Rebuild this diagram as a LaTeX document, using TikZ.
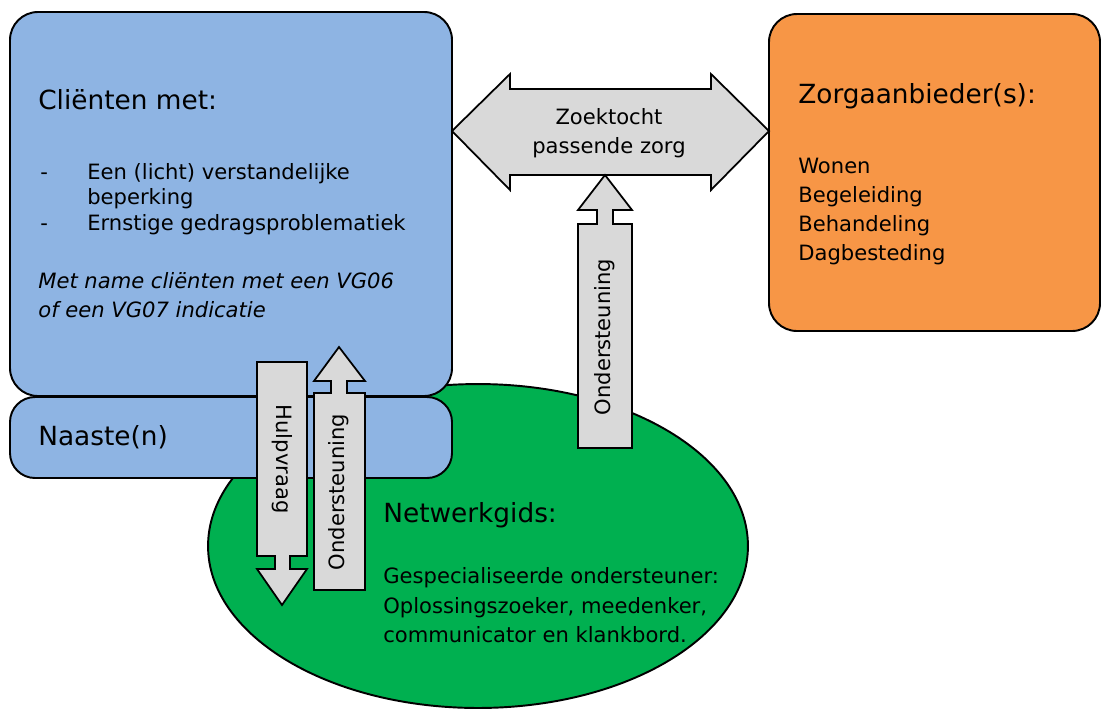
\documentclass[tikz,border=0pt]{standalone}
\usepackage{fontspec}
\setmainfont{DejaVu Sans}
\usetikzlibrary{positioning}
\definecolor{clientblauw}{HTML}{8EB4E3}
\definecolor{aanbiederoranje}{HTML}{F79646}
\definecolor{gidsgroen}{HTML}{00B050}
\definecolor{pijlgrijs}{HTML}{D9D9D9}
\tikzset{vlak/.style = {draw = black, line width = 1.1pt}}
\tikzset{pijl/.style = {draw = black, line width = 1pt, fill = pijlgrijs}}
\tikzset{kop/.style = {font = \fontsize{15}{18}\selectfont, anchor = base west, inner sep = 0}}
\tikzset{regel/.style = {font = \fontsize{12}{14}\selectfont, anchor = base west, inner sep = 0}}
\tikzset{pijltekst/.style = {font = \fontsize{12}{14}\selectfont, inner sep = 0}}

\begin{document}
\begin{tikzpicture}[x = 0.02cm, y = -0.02cm]
      \useasboundingbox (0, 0) rectangle (1102, 708);

      % netwerkgids
      \draw [vlak, fill = gidsgroen] (478, 546) ellipse [x radius = 5.4cm, y radius = 3.24cm];
      % clienten en naasten
      \draw [vlak, fill = clientblauw, rounded corners = 0.56cm] (10, 12) coordinate (clienten) rectangle (452, 396);
      \draw [vlak, fill = clientblauw, rounded corners = 0.5cm] (10, 397) coordinate (naasten) rectangle (452, 478);
      % zorgaanbieders
      \draw [vlak, fill = aanbiederoranje, rounded corners = 0.56cm] (769, 14) coordinate (aanbieder) rectangle (1100, 331);

      \node [kop] (clienten-kop) at (38, 109) {Cliënten met:};
      \node [regel] (streep1) at (40, 179) {-};
      \node [regel] (beperking1) at (87, 179) {Een (licht) verstandelijke};
      \node [regel] (beperking2) at (87, 204) {beperking};
      \node [regel] (streep2) at (40, 230) {-};
      \node [regel] (gedrag) at (87, 230) {Ernstige gedragsproblematiek};
      \node [regel, font = \fontsize{12}{14}\selectfont\itshape] (vg06) at (38, 288) {Met name cliënten met een VG06};
      \node [regel, font = \fontsize{12}{14}\selectfont\itshape] (vg07) at (38, 317) {of een VG07 indicatie};
      \node [kop] (naasten-kop) at (38, 445) {Naaste(n)};

      \node [kop] (aanbieder-kop) at (798, 103) {Zorgaanbieder(s):};
      \foreach \soort [count = \i] in {Wonen, Begeleiding, Behandeling, Dagbesteding}
        \node [regel] (zorg\i) at (798, 173 + 29.3*\i - 29.3) {\soort};

      \node [kop] (gids-kop) at (383, 522) {Netwerkgids:};
      \node [regel] (gids1) at (383, 583) {Gespecialiseerde ondersteuner:};
      \node [regel] (gids2) at (383, 613) {Oplossingszoeker, meedenker,};
      \node [regel] (gids3) at (383, 642) {communicator en klankbord.};

      % zoektocht passende zorg
      \draw [pijl] (452, 131) -- (510, 74) -- (510, 89) -- (711, 89) -- (711, 74) -- (769, 131)
      -- (711, 190) -- (711, 175) -- (510, 175) -- (510, 190) -- cycle;
      \node [regel, anchor = base] (zoek1) at (609, 124) {Zoektocht};
      \node [regel, anchor = base] (zoek2) at (609, 153) {passende zorg};

      % ondersteuning naar zorgaanbieder
      \draw [pijl] (605, 175) -- (632, 210) -- (613, 210) -- (613, 224) -- (632, 224) -- (632, 448)
      -- (578, 448) -- (578, 224) -- (597, 224) -- (597, 210) -- (578, 210) -- cycle;
      \node [pijltekst, rotate = 90] (steun-rechts) at (605, 337) {Ondersteuning};

      % hulpvraag
      \draw [pijl] (257, 362) -- (307, 362) -- (307, 556) -- (290, 556) -- (290, 569) -- (307, 569)
      -- (282, 605) -- (257, 569) -- (275, 569) -- (275, 556) -- (257, 556) -- cycle;
      \node [pijltekst, rotate = -90] (hulpvraag) at (282, 459) {Hulpvraag};

      % ondersteuning naar clienten
      \draw [pijl] (339, 347) -- (365, 381) -- (347, 381) -- (347, 393) -- (365, 393) -- (365, 590)
      -- (314, 590) -- (314, 393) -- (331, 393) -- (331, 381) -- (314, 381) -- cycle;
      \node [pijltekst, rotate = 90] (steun-links) at (339, 492) {Ondersteuning};
    \end{tikzpicture}
\end{document}
